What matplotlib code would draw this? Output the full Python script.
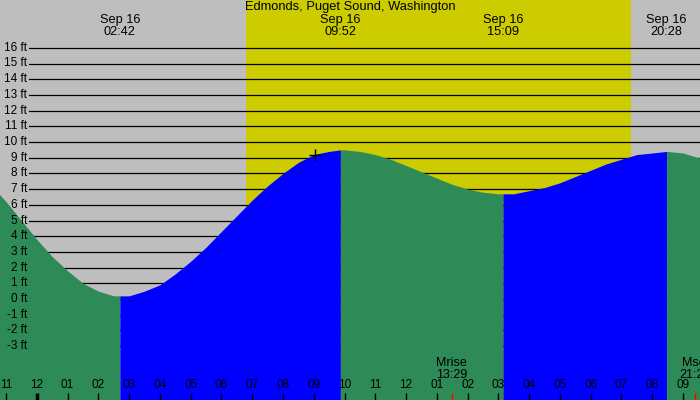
import numpy as np
import matplotlib
matplotlib.use("Agg")
import matplotlib.pyplot as plt

# ---- data (hours from midnight Sep 16) ----
title = "Edmonds, Puget Sound, Washington"
sample_hours = list(np.arange(-1.5, 22.01, 0.5))
sample_ft = [7.3, 6.2, 5.0, 3.8, 2.7, 1.8, 1.0, 0.5, 0.2, 0.2, 0.5, 0.9, 1.6, 2.4,
             3.3, 4.3, 5.3, 6.3, 7.2, 8.0, 8.7, 9.2, 9.4, 9.5, 9.4, 9.2, 8.9, 8.5,
             8.1, 7.7, 7.3, 7.0, 6.8, 6.7, 6.7, 6.9, 7.1, 7.4, 7.8, 8.2, 8.6, 8.9,
             9.2, 9.3, 9.4, 9.3, 9.0, 8.6]
extreme_hours = [2.7, 9.867, 15.15, 20.467]
extreme_ft = [0.2, 9.5, 6.7, 9.4]
extreme_labels = ["02:42", "09:52", "15:09", "20:28"]
extreme_date = "Sep 16"
sunrise_h, sunset_h = 6.80, 19.30
moon_hours = [13.483, 21.40]
moon_labels = ["Mrise\n13:29", "Mset\n21:24"]
marker_h, marker_ft = 9.04, 9.2
ft_levels = list(range(-3, 17))
hour_ticks = list(range(-1, 22))
hour_labels = ["11", "12", "01", "02", "03", "04", "05", "06", "07", "08", "09", "10",
               "11", "12", "01", "02", "03", "04", "05", "06", "07", "08", "09"]

GRAY = "#bebebe"
YELLOW = "#cccc00"
GREEN = "#2e8b57"
BLUE = "#0000ff"
FONT = "Liberation Sans"

W, H = 700, 400
PX_PER_H = 30.77
X0 = 36.8          # pixel of hour 0
PX_PER_FT = 15.7
Y0 = 299.0         # pixel of 0 ft (from top)

fig = plt.figure(figsize=(7, 4), dpi=100)
fig.patch.set_facecolor(GRAY)
ax = fig.add_axes([0, 0, 1, 1])
ax.set_facecolor(GRAY)
ax.set_xlim(-X0 / PX_PER_H, (W - X0) / PX_PER_H)
ax.set_ylim(-(H - Y0) / PX_PER_FT, Y0 / PX_PER_FT)
ax.axis("off")

# daylight
ax.axvspan(sunrise_h, sunset_h, color=YELLOW, lw=0, zorder=0)

# grid lines
xmin_frac = 29 / W
for v in ft_levels:
    ax.axhline(v, xmin=xmin_frac, xmax=1, color="black", lw=0.9, zorder=1)
    ax.text(27 / W, v, f"{v} ft", transform=ax.get_yaxis_transform(),
            ha="right", va="center", fontsize=8.5, family=FONT, zorder=5)

# tide curve: merge samples with extremes
t = np.array(sample_hours + extreme_hours)
v = np.array(sample_ft + extreme_ft)
o = np.argsort(t)
t, v = t[o], v[o]
bottom = ax.get_ylim()[0]
bounds = [ax.get_xlim()[0] - 1] + extreme_hours + [ax.get_xlim()[1] + 1]
for i in range(len(bounds) - 1):
    a, b = bounds[i], bounds[i + 1]
    m = (t >= a - 1e-9) & (t <= b + 1e-9)
    col = GREEN if i % 2 == 0 else BLUE
    ax.fill_between(t[m], v[m], bottom, color=col, lw=0, zorder=2)

# marker
ax.plot([marker_h], [marker_ft], marker="+", color="black", ms=8, mew=1, zorder=6)

# title and extreme labels
ax.text(0.5, 1 - 7 / H, title, transform=ax.transAxes, ha="center", va="center",
        fontsize=9.3, family=FONT, zorder=6)
for hh, lab in zip(extreme_hours, extreme_labels):
    ax.text(hh, 1 - 26 / H, f"{extreme_date}\n{lab}", transform=ax.get_xaxis_transform(),
            ha="center", va="center", fontsize=9.2, family=FONT, linespacing=0.9, zorder=6)

# hour ticks
for hh, lab in zip(hour_ticks, hour_labels):
    ax.text(hh, 15 / H, lab, transform=ax.get_xaxis_transform(), ha="center",
            va="center", fontsize=8.5, family=FONT, zorder=6)
    ax.plot([hh, hh], [0, 7 / H], transform=ax.get_xaxis_transform(), color="black",
            lw=2.5 if hh == 0 else 1.0, zorder=6, solid_capstyle="butt")

# moon
for hh, lab in zip(moon_hours, moon_labels):
    ax.text(hh, 31 / H, lab, transform=ax.get_xaxis_transform(), ha="center",
            va="center", fontsize=9, family=FONT, linespacing=0.9, zorder=6)
    ax.plot([hh, hh], [0, 7 / H], transform=ax.get_xaxis_transform(), color="red",
            lw=1.0, zorder=6, solid_capstyle="butt")

fig.savefig("out.png", dpi=100, facecolor=GRAY)
